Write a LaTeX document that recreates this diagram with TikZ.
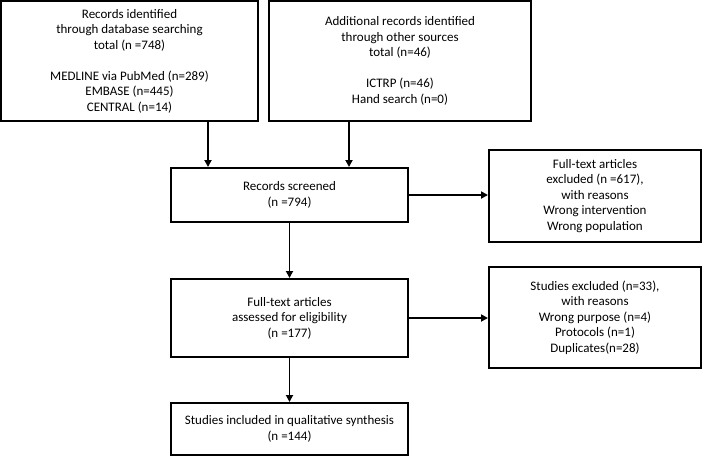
\documentclass[tikz,border=0pt]{standalone}
\usepackage{fontspec}
\setmainfont{Carlito}
\usepackage{tikz}
\usetikzlibrary{arrows.meta, positioning}

\tikzset{
  box/.style={draw, line width=2pt, align=center, inner sep=0pt,
    font=\fontsize{13}{15.5}\selectfont},
  arr/.style={line width=1.8pt, -{Triangle[length=7pt,width=7pt]}}
}

\begin{document}
\begin{tikzpicture}[x=1pt, y={(0pt,-1pt)}]
\useasboundingbox (0,0) rectangle (710,456);

\node (ident) [box, minimum width=257pt, minimum height=120pt] at (129.5,61)
  {Records identified\\ through database searching\\ total (n =748)\\[15.5pt]
   MEDLINE via PubMed (n=289)\\ EMBASE (n=445)\\ CENTRAL (n=14)};
\node (other) [box, minimum width=262pt, minimum height=120pt] at (400,61)
  {Additional records identified\\ through other sources\\ total (n=46)\\[15.5pt]
   ICTRP (n=46)\\ Hand search (n=0)};
\node (screen) [box, minimum width=237pt, minimum height=54pt] at (289.5,195)
  {Records screened\\ (n =794)};
\node (excl) [box, minimum width=212pt, minimum height=92pt] at (595,196)
  {Full-text articles\\ excluded (n =617),\\ with reasons\\ Wrong intervention\\ Wrong population};
\node (elig) [box, minimum width=237pt, minimum height=78pt] at (289.5,318)
  {Full-text articles\\ assessed for eligibility\\ (n =177)};
\node (studex) [box, minimum width=212pt, minimum height=101pt] at (595,317.5)
  {Studies excluded (n=33),\\ with reasons\\ Wrong purpose (n=4)\\ Protocols (n=1)\\ Duplicates(n=28)};
\node (incl) [box, minimum width=237pt, minimum height=52pt] at (289.5,429)
  {Studies included in qualitative synthesis\\ (n =144)};

\draw[arr] ([xshift=78.5pt]ident.south) -- ([xshift=78.5pt]ident.south |- screen.north);
\draw[arr] ([xshift=-51pt]other.south) -- ([xshift=-51pt]other.south |- screen.north);
\draw[arr] (screen) -- (screen -| excl.west);
\draw[arr] (screen) -- (elig);
\draw[arr] (elig) -- (elig -| studex.west);
\draw[arr] (elig) -- (incl);
\end{tikzpicture}
\end{document}
